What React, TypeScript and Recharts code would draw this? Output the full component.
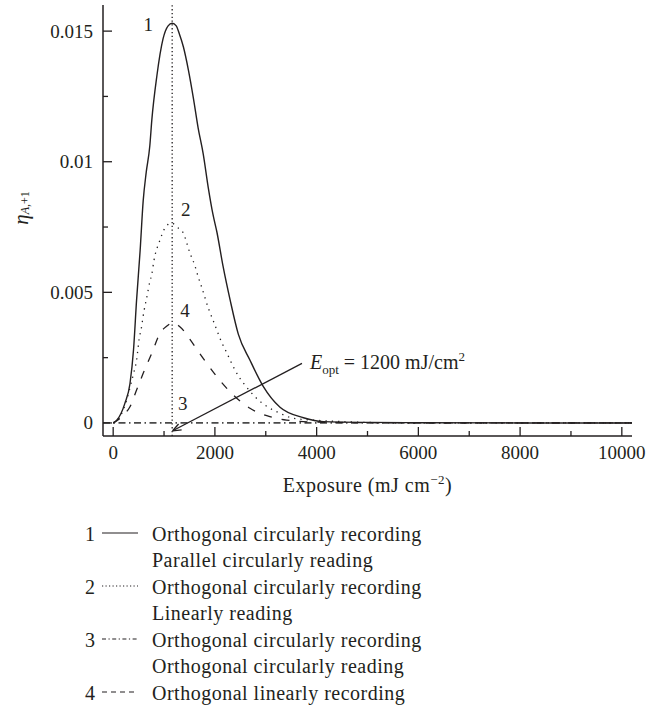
import React from 'react';
import { LineChart, Line, XAxis, YAxis, ReferenceLine, ReferenceDot, Legend } from 'recharts';

const SERIF = "'Liberation Serif', 'Times New Roman', serif";
const INK = '#231f20';

// ---- data ----
const curve1X = [0, 70, 230, 330, 400, 460, 530, 590, 650, 720, 760, 860, 980, 1080, 1160, 1240, 1300, 1380, 1480, 1580, 1670, 1770, 1870, 1960, 2040, 2160, 2300, 2460, 2690, 2950, 3280, 3740, 4130, 5000, 6000, 8000, 10000, 10200];
const curve1Y = [0, 0.0001, 0.00075, 0.0015, 0.0028, 0.0047, 0.0066, 0.0085, 0.0096, 0.0106, 0.0116, 0.0133, 0.0147, 0.0152, 0.0153, 0.0152, 0.0149, 0.0144, 0.0135, 0.0124, 0.0113, 0.0103, 0.009, 0.008, 0.0073, 0.006, 0.0047, 0.0034, 0.0024, 0.0014, 0.0006, 0.0002, 0.00005, 0.00002, 0.00001, 0, 0, 0];

const curve2X = [0, 80, 170, 250, 310, 360, 410, 460, 510, 560, 590, 670, 720, 760, 800, 920, 1000, 1080, 1160, 1250, 1370, 1510, 1610, 1670, 1740, 1870, 1970, 2130, 2230, 2350, 2460, 2590, 2790, 3050, 3280, 3540, 4000, 4500, 5000, 6000, 8000, 10000, 10200];
const curve2Y = [0, 0.0001, 0.00037, 0.00078, 0.0012, 0.00158, 0.00196, 0.0024, 0.0032, 0.0037, 0.0041, 0.0049, 0.0054, 0.0057, 0.0062, 0.007, 0.0074, 0.0076, 0.00765, 0.0075, 0.0073, 0.0065, 0.006, 0.0056, 0.0052, 0.0044, 0.0039, 0.0031, 0.0027, 0.0022, 0.0018, 0.00145, 0.001, 0.0006, 0.00037, 0.00018, 0.0001, 0.00005, 0.00002, 0, 0, 0, 0];

const curve3X = [-200, 0, 2000, 4000, 6000, 8000, 10000, 10200];
const curve3Y = [0, 0, 0, 0, 0, 0, 0, 0];

const curve4X = [0, 100, 200, 330, 460, 590, 760, 920, 1050, 1180, 1300, 1400, 1510, 1770, 2040, 2330, 2690, 3080, 3410, 4000, 5000, 6000, 8000, 10000, 10200];
const curve4Y = [0, 0.00012, 0.0003, 0.00062, 0.00126, 0.0019, 0.00267, 0.00343, 0.0037, 0.00384, 0.0037, 0.0035, 0.0032, 0.00247, 0.00177, 0.00113, 0.00056, 0.00024, 0.00011, 0.00003, 0.00001, 0, 0, 0, 0];

const xMajorTicks = [0, 2000, 4000, 6000, 8000, 10000];
const xMinorTicks = [1000, 3000, 5000, 7000, 9000];
const yMajorTicks = [0, 0.005, 0.01, 0.015];
const yMajorLabels = ['0', '0.005', '0.01', '0.015'];
const yMinorTicks = [0.0025, 0.0075, 0.0125];

const optimumExposure = 1160;
const arrowFrom = { x: 3712, y: 0.00228 };
const arrowTo = { x: 1170, y: -0.0003 };

const curveTags = [
  { tag: '1', x: 690, y: 0.01527 },
  { tag: '2', x: 1426, y: 0.00818 },
  { tag: '4', x: 1412, y: 0.00432 },
  { tag: '3', x: 1367, y: 0.00075 },
];

const seriesTags = ['1', '2', '3', '4'];
const seriesNames = ['Orthogonal circularly recording', 'Orthogonal circularly recording', 'Orthogonal circularly recording', 'Orthogonal linearly recording'];
const seriesSubNames = ['Parallel circularly reading', 'Linearly reading', 'Orthogonal circularly reading', ''];

const toRows = (xs: number[], ys: number[]) => xs.map((x, i) => ({ x, y: ys[i] }));
const data1 = toRows(curve1X, curve1Y);
const data2 = toRows(curve2X, curve2Y);
const data3 = toRows(curve3X, curve3Y);
const data4 = toRows(curve4X, curve4Y);

const xAllTicks = [...xMajorTicks, ...xMinorTicks].sort((a, b) => a - b);
const yAllTicks = [...yMajorTicks, ...yMinorTicks].sort((a, b) => a - b);

const dashes = [undefined, '1.2 2.3', '4 2.5 1.2 2.5', '5 4'];

const isYMajor = (v: number) => yMajorTicks.findIndex((t) => Math.abs(t - v) < 1e-9);

const makeTick = (side: 'bottom' | 'top' | 'left' | 'right') => (props: any) => {
  const { x, y, payload } = props;
  const v = payload.value;
  const horiz = side === 'bottom' || side === 'top';
  const idx = horiz ? xMajorTicks.indexOf(v) : isYMajor(v);
  const len = idx >= 0 ? 9 : 5;
  let ln: any;
  if (side === 'bottom') ln = <line x1={x} y1={y} x2={x} y2={y - len} />;
  else if (side === 'top') ln = <line x1={x} y1={y} x2={x} y2={y + len} />;
  else if (side === 'left') ln = <line x1={x} y1={y} x2={x + len} y2={y} />;
  else ln = <line x1={x} y1={y} x2={x - len} y2={y} />;
  return (
    <g>
      <g stroke={INK} strokeWidth={1.3}>{ln}</g>
      {side === 'bottom' && idx >= 0 && (
        <text x={x} y={y + 23} textAnchor="middle" fontFamily={SERIF} fontSize={19} fill={INK}>
          {String(v)}
        </text>
      )}
      {side === 'left' && idx >= 0 && (
        <text x={x - 10} y={y + 6.5} textAnchor="end" fontFamily={SERIF} fontSize={19} fill={INK}>
          {yMajorLabels[idx]}
        </text>
      )}
    </g>
  );
};

const ArrowShape = (p: any) => {
  const { x1, y1, x2, y2 } = p;
  const ang = Math.atan2(y1 - y2, x1 - x2);
  const h = 9;
  const a1 = ang + 0.38;
  const a2 = ang - 0.38;
  return (
    <g>
      <line x1={x1} y1={y1} x2={x2} y2={y2} stroke={INK} strokeWidth={1.3} />
      <line x1={x2} y1={y2} x2={x2 + h * Math.cos(a1)} y2={y2 + h * Math.sin(a1)} stroke={INK} strokeWidth={1.3} />
      <line x1={x2} y1={y2} x2={x2 + h * Math.cos(a2)} y2={y2 + h * Math.sin(a2)} stroke={INK} strokeWidth={1.3} />
      <text x={x1 + 8} y={y1 + 6} fontFamily={SERIF} fontSize={20} fill={INK}>
        <tspan fontStyle="italic">E</tspan>
        <tspan fontSize={13} dy={5}>opt</tspan>
        <tspan dy={-5}> = 1200 mJ/cm</tspan>
        <tspan fontSize={13} dy={-8}>2</tspan>
      </text>
    </g>
  );
};

const LegendBox = () => {
  const top = 19;
  const step = 26.5;
  const rows: any[] = [];
  let r = 0;
  seriesTags.forEach((tag, i) => {
    const cy = top + r * step;
    rows.push(
      <g key={'s' + i}>
        <text x={90} y={cy + 6.5} textAnchor="middle" fontFamily={SERIF} fontSize={20} fill={INK}>{tag}</text>
        <line x1={102} x2={138} y1={cy - 1} y2={cy - 1} stroke={INK} strokeWidth={1.2} strokeDasharray={dashes[i]} />
        <text x={152} y={cy + 6.5} fontFamily={SERIF} fontSize={20} letterSpacing={0.5} fill={INK}>{seriesNames[i]}</text>
      </g>
    );
    r += 1;
    if (seriesSubNames[i]) {
      const cy2 = top + r * step;
      rows.push(
        <text key={'t' + i} x={152} y={cy2 + 6.5} fontFamily={SERIF} fontSize={20} letterSpacing={0.5} fill={INK}>{seriesSubNames[i]}</text>
      );
      r += 1;
    }
  });
  return (
    <svg width={671} height={190} style={{ display: 'block' }}>
      {rows}
    </svg>
  );
};

const XLabel = () => (
  <text x={367.5} y={492} textAnchor="middle" fontFamily={SERIF} fontSize={20} letterSpacing={0.5} fill={INK}>
    Exposure (mJ cm
    <tspan fontSize={13} dy={-8}>−2</tspan>
    <tspan dy={8}>)</tspan>
  </text>
);

const YLabel = () => (
  <text transform="translate(27.5,208) rotate(-90)" textAnchor="middle" fontFamily={SERIF} fill={INK}>
    <tspan fontStyle="italic" fontSize={21}>η</tspan>
    <tspan fontSize={12} dy={1}>
      <tspan fontStyle="italic">A</tspan>,+1
    </tspan>
  </text>
);

export default function App() {
  const axisLine = { stroke: INK, strokeWidth: 1.5 };
  return (
    <div style={{ position: 'absolute', left: 0, top: 0, background: '#fff' }}>
      <LineChart width={671} height={706} margin={{ top: 5, right: 39, left: 0, bottom: 0 }}>
        <XAxis
          dataKey="x"
          type="number"
          domain={[-200, 10200]}
          ticks={xAllTicks}
          interval={0}
          tickLine={false}
          tickSize={0}
          tickMargin={0}
          height={270}
          axisLine={axisLine}
          tick={makeTick('bottom')}
          label={{ content: () => <XLabel /> }}
        />
        <XAxis
          xAxisId="top"
          orientation="top"
          type="number"
          domain={[-200, 10200]}
          ticks={xAllTicks}
          interval={0}
          tickLine={false}
          tickSize={0}
          tickMargin={0}
          height={0}
          axisLine={axisLine}
          tick={makeTick('top')}
        />
        <YAxis
          type="number"
          domain={[-0.0005, 0.016]}
          ticks={yAllTicks}
          interval={0}
          tickLine={false}
          tickSize={0}
          tickMargin={0}
          width={103}
          axisLine={axisLine}
          tick={makeTick('left')}
          label={{ content: () => <YLabel /> }}
        />
        <YAxis
          yAxisId="right"
          orientation="right"
          type="number"
          domain={[-0.0005, 0.016]}
          ticks={yAllTicks}
          interval={0}
          tickLine={false}
          tickSize={0}
          tickMargin={0}
          width={0}
          axisLine={axisLine}
          tick={makeTick('right')}
        />
        <ReferenceLine x={optimumExposure} stroke={INK} strokeWidth={1.3} strokeDasharray="1.3 2.5" />
        <Line data={data3} dataKey="y" name={seriesNames[2]} type="linear" stroke="#4a4a4a" strokeWidth={1.7} strokeDasharray="7 3.5 1.5 3.5" dot={false} isAnimationActive={false} />
        <Line data={data4} dataKey="y" name={seriesNames[3]} type="monotone" stroke={INK} strokeWidth={1.3} strokeDasharray="8 10" dot={false} isAnimationActive={false} />
        <Line data={data2} dataKey="y" name={seriesNames[1]} type="monotone" stroke={INK} strokeWidth={1.3} strokeDasharray="1.3 5" dot={false} isAnimationActive={false} />
        <Line data={data1} dataKey="y" name={seriesNames[0]} type="monotone" stroke={INK} strokeWidth={1.4} dot={false} isAnimationActive={false} />
        <ReferenceLine segment={[arrowFrom, arrowTo]} stroke={INK} shape={ArrowShape} />
        {curveTags.map((c) => (
          <ReferenceDot
            key={c.tag}
            x={c.x}
            y={c.y}
            r={0}
            stroke="none"
            fill="none"
            label={{ value: c.tag, position: 'center', fill: INK, fontSize: 19, fontFamily: SERIF }}
          />
        ))}
        <Legend
          layout="vertical"
          verticalAlign="middle"
          align="center"
          wrapperStyle={{ left: 0, top: 515, width: 671, height: 190 }}
          content={() => <LegendBox />}
        />
      </LineChart>
    </div>
  );
}
